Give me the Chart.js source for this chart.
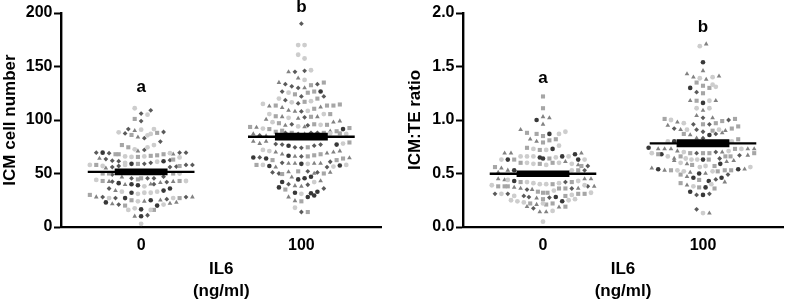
<!DOCTYPE html>
<html><head><meta charset="utf-8">
<script src="https://cdn.jsdelivr.net/npm/chart.js@4"></script>
<style>html,body{margin:0;padding:0;background:#fff;width:787px;height:300px;overflow:hidden}
canvas{position:absolute;top:0}</style></head><body>
<canvas id="a" width="400" height="300" style="left:0;width:400px;height:300px"></canvas>
<canvas id="b" width="387" height="300" style="left:400px;width:387px;height:300px"></canvas>
<script>
const categories=['0','100'];
const cellTicks=[0,50,100,150,200];
const ratioTicks=[0,0.5,1,1.5,2];
const cellLetters=[['a',131],['b',205]];
const ratioLetters=[['a',1.39],['b',1.87]];
const cellMeans=[51.5,84.4];
const cellSems=[3.2,3.6];
const ratioMeans=[0.498,0.782];
const ratioSems=[0.031,0.037];
// each mark: [swarm slot, value, marker kind]
const cell0=[[-1,111,'c'],[1.5,109,'x'],[0,106,'x'],[1,105,'c'],[-1,101,'s'],[0,99,'x'],
[-3.5,88.5,'c'],[-2.5,87.5,'x'],[-2,91.5,'x'],[-1,90,'t'],[-1.5,86,'s'],[0,91,'c'],[2,91.5,'c'],[1,85.7,'c'],[1.5,87,'c'],[2.5,88,'s'],[3.5,88.8,'x'],[-0.5,84,'t'],[0.5,83,'x'],
[-3,76.6,'s'],[-2,74.5,'s'],[-1,72.6,'c'],[-0.5,71,'t'],[0.5,72,'x'],[1,74.5,'c'],[2,76.6,'c'],[3,79.8,'x'],
[-7,69.5,'x'],[-6,69.5,'o'],[-5,69,'x'],[-4,68,'s'],[-3.5,68,'s'],[-2.5,66,'c'],[-1.5,65.5,'c'],[-0.5,65.5,'s'],[0.5,66,'c'],[1.5,66.5,'s'],[2.5,67,'s'],[3.5,68,'s'],[4.5,69,'c'],[5,68,'t'],[6,69.5,'x'],[7,69.5,'x'],
[-6.5,64,'t'],[-5.5,63.5,'x'],[-4.5,62,'x'],[-3.5,61.5,'x'],[-2.5,60,'c'],[-1.5,59,'o'],[-0.5,59,'s'],[0.5,59,'x'],[1.5,60,'x'],[2.5,61,'c'],[3.5,61.5,'o'],[4.5,62.5,'x'],[5,63,'s'],[6,65,'c'],
[-8,58,'c'],[-7,58,'s'],[-6,57,'c'],[-5.5,55,'t'],[-4.5,56,'x'],[-3.5,57,'x'],[-2.5,58,'c'],[4.5,56,'x'],[5.5,56.5,'x'],[6,57,'s'],[7,58,'x'],[8,58,'x'],
[-6,50,'s'],[-5,50,'s'],[-4.5,49,'x'],[5,50,'s'],[6,50,'c'],
[-3,46.5,'t'],[-1.5,45.5,'x'],[-0.5,44.5,'s'],[0,45.5,'s'],[1,45.5,'x'],[2,45.5,'x'],[3.5,47,'x'],
[-7,44,'c'],[-6,43,'s'],[-5,42.5,'t'],[-4.5,42.5,'x'],[-3.5,41,'o'],[-2.5,39.6,'t'],[-1.5,40,'o'],[-0.5,39,'o'],[0.5,38,'c'],[1.5,40,'t'],[2,40,'x'],[3,41.5,'t'],[4,42,'x'],[5,42.5,'t'],[6,43,'s'],[7,43,'c'],
[-5,36,'x'],[-4,34,'t'],[-3,33,'c'],[-1.5,32,'o'],[-0.5,31,'c'],[0.5,32,'c'],[1.5,32,'c'],[2.5,33,'c'],[3.5,34,'o'],[4.5,36,'o'],
[-8,30,'s'],[-7,28,'t'],[-6,28,'x'],[-5,27,'c'],[-4,27,'x'],[-2.5,27,'o'],[-1.5,25,'s'],[-0.5,24,'c'],[0.5,24,'t'],[1.5,25,'o'],[3,25,'t'],[4,26,'x'],[5,27,'c'],[6,27,'s'],[7,28,'x'],[8,28,'t'],
[-5.5,23,'o'],[-4.5,21.5,'t'],[-3.5,21,'x'],[-2.5,20,'s'],[-2,16,'c'],[-1,17.5,'c'],[0,16.5,'o'],[1.5,16,'c'],[2,16,'s'],[2.5,20,'o'],[3.5,21,'c'],[4.5,22,'t'],[5.5,23,'t'],
[-1,10,'t'],[0,10,'o'],[1,11,'x'],[0,3,'c']];
const cell100=[[0,190,'x'],[-0.5,170,'c'],[0.5,170,'c'],[-0.5,161,'c'],[0.5,157.5,'c'],
[-2,145,'t'],[-1,145,'x'],[0.5,146,'x'],[1.5,146.5,'c'],[-0.5,139,'t'],[0.5,137.5,'c'],
[-3.5,135,'t'],[-2.5,133.5,'x'],[-1.5,131.5,'x'],[-0.5,130,'x'],[0.5,130,'t'],[1.5,132.5,'s'],[2.5,133.5,'x'],[3.5,135,'s'],
[-3,126.6,'x'],[-2,125.5,'c'],[-1,124,'s'],[0,122,'x'],[1,125.5,'s'],[2,126.6,'s'],[3,126.6,'o'],
[-3.5,120,'c'],[-2.5,118.5,'x'],[-1.5,116.5,'c'],[-0.5,115.5,'x'],[0.5,117,'s'],[1.5,117.6,'c'],[2.5,120,'s'],[3.5,122,'x'],
[-6,115,'c'],[-5,113,'t'],[-4,113.5,'s'],[-3,111.5,'t'],[-2,109,'t'],[-1,108,'t'],[0,108,'x'],[1,108.5,'c'],[2,110.5,'s'],[3,112,'t'],[4,113.5,'s'],[5,113.5,'s'],[6,114.5,'s'],
[-5,105.5,'c'],[-4,103.5,'s'],[-3,103,'t'],[-2,102,'c'],[-0.5,101.5,'t'],[0.5,102.5,'x'],[1.5,103,'s'],[2.5,103,'t'],[3.5,105.5,'c'],[4.5,105.5,'s'],
[-5.5,100.5,'t'],[-4.5,98,'c'],[-3.5,97,'s'],[-2.5,95,'t'],[-1.5,96,'x'],[-0.5,94,'c'],[0.5,93.5,'t'],[1,95,'x'],[2,96,'s'],[3,95.5,'c'],[4,95.5,'s'],[5,98,'t'],[6,99,'t'],
[-8,93.5,'s'],[-7,93,'t'],[-6,92,'c'],[-5,91.5,'s'],[-4,89,'s'],[-3,90,'s'],[6.5,91.5,'o'],[7.5,92.5,'s'],[5.5,89.5,'s'],[4.5,89.5,'t'],
[-7.5,87,'t'],[-6.5,85.5,'x'],[-5.5,85,'t'],[4.5,87.5,'c'],[6,87.5,'s'],[7,87,'c'],[-2.5,88,'x'],[-1.5,88,'s'],[-0.5,87,'x'],[0.5,87,'t'],[1.5,88,'x'],[2.5,88,'x'],[3.5,88,'s'],
[-7.5,80,'t'],[-6.5,78,'t'],[-5.5,80,'t'],[-4,77.5,'x'],[-3,77,'x'],[-2,76,'o'],[-1,74.5,'x'],[0,74,'x'],[1,74.5,'s'],[2,76,'x'],[3,77,'x'],[5.5,77,'o'],[6.5,78,'c'],[7.5,79,'s'],
[-6,72,'c'],[-5,71,'c'],[-4,70,'t'],[-3,68,'t'],[-2,66.6,'o'],[-1,66,'t'],[0,66,'x'],[1,66,'s'],[2,67,'s'],[3,68,'s'],[4,69,'t'],[5,70,'t'],[6,71,'t'],
[-7.5,65,'o'],[-6.5,65,'x'],[-5.5,64,'o'],[-4.5,62.5,'s'],[4.5,61,'x'],[5.5,62.5,'s'],[6.5,64,'s'],[7.5,64.5,'t'],
[-7,58,'s'],[-6,58,'c'],[-5,57,'o'],[-4,56,'t'],[-3,60,'x'],[-2,59.5,'t'],[-1,59.5,'t'],[0,59,'o'],[1,59,'c'],[2,59.5,'t'],[3,59.5,'t'],[4,56,'x'],[5,56.5,'c'],[6,57.5,'o'],[7,58,'c'],
[-4.5,51,'x'],[-3.5,50,'x'],[-3,49.5,'s'],[-2,51.5,'t'],[-0.5,52,'s'],[1,52,'x'],[2,50,'t'],[2.5,51,'x'],[3.5,50,'s'],[4.5,51,'t'],[-1.5,46.5,'t'],[-0.5,44.5,'o'],[0.5,45.5,'o'],[1.5,47,'o'],[2,42,'c'],[3,43,'t'],
[-3,42,'o'],[-2,40,'x'],[-1,38.5,'t'],[0,38,'t'],[1,39.5,'x'],[-3.5,37,'o'],[-2.5,35,'s'],[-1,32,'o'],[0,31,'c'],[1,28,'o'],[1.5,31.5,'o'],[2.5,33,'o'],[3.5,36,'x'],[2,29.5,'o'],[-2,28,'t'],[-1,24.5,'t'],[0,24,'s'],[-1,18,'c'],[0,14,'x'],[1,14,'s']];
const ratio0=[[0,1.22,'s'],[0,1.11,'s'],[-1,1.00,'o'],[0,1.03,'t'],[1,1.02,'t'],[0,0.96,'t'],
[-3.5,0.91,'t'],[-2.5,0.88,'s'],[-1,0.87,'s'],[-2,0.82,'t'],[-1,0.80,'t'],[0,0.85,'s'],[0,0.79,'s'],[1,0.87,'o'],[1,0.81,'s'],[2,0.82,'s'],[2.5,0.87,'c'],[3.5,0.89,'c'],[2.5,0.76,'c'],
[-2.5,0.74,'s'],[-1.5,0.73,'c'],[-0.5,0.72,'s'],[0.5,0.72,'c'],[1.5,0.73,'o'],
[-6,0.69,'t'],[-5,0.69,'t'],[-6.5,0.63,'c'],[-5.5,0.63,'o'],[-4.5,0.63,'s'],[-3.5,0.66,'c'],[-2.5,0.66,'c'],[-1.5,0.66,'c'],[-0.5,0.65,'o'],[0,0.64,'o'],[1,0.64,'s'],[2,0.65,'c'],[3,0.66,'o'],[4,0.66,'c'],[5,0.68,'o'],[6,0.69,'t'],[5.5,0.63,'o'],[6.5,0.63,'c'],
[-3.5,0.60,'s'],[-2.5,0.60,'c'],[-1.5,0.59,'c'],[-0.5,0.59,'s'],[0.5,0.58,'c'],[1.5,0.60,'s'],[2.5,0.60,'c'],[3.5,0.61,'t'],[4.5,0.59,'c'],[5.5,0.58,'t'],[6,0.57,'s'],
[-7.5,0.56,'s'],[-6.5,0.55,'t'],[-5.5,0.53,'t'],[-4.5,0.53,'o'],[6.5,0.53,'x'],[4.5,0.53,'c'],[5.5,0.53,'s'],[7,0.57,'x'],[-7,0.51,'t'],
[-7,0.45,'t'],[-6,0.44,'t'],[-8,0.39,'c'],[-7,0.38,'s'],[-6,0.38,'s'],[-5.5,0.38,'s'],[-5.5,0.44,'c'],[-4.5,0.43,'o'],[-3.5,0.42,'s'],[-2.5,0.42,'c'],[-1.5,0.41,'c'],[-0.5,0.40,'c'],[0.5,0.40,'c'],[1.5,0.40,'s'],[2.5,0.41,'c'],[3.5,0.42,'x'],[4.5,0.42,'s'],[5.5,0.43,'c'],[6.5,0.45,'t'],[7.5,0.45,'t'],
[-4.5,0.37,'t'],[-3.5,0.36,'t'],[-2.5,0.35,'x'],[-1.7,0.35,'t'],[-0.8,0.33,'s'],[0,0.32,'s'],[0.7,0.32,'s'],[1.7,0.34,'c'],[2.5,0.36,'s'],[3.5,0.36,'s'],[4.5,0.36,'x'],[5.5,0.36,'t'],[6.5,0.39,'c'],[7,0.38,'x'],[8,0.38,'t'],
[-7.5,0.31,'x'],[-6.5,0.31,'c'],[-5.5,0.31,'x'],[-4.5,0.29,'c'],[-3,0.29,'x'],[-2.2,0.28,'x'],[-1,0.27,'t'],[0,0.26,'s'],[1,0.275,'x'],[2,0.28,'o'],[3.5,0.29,'s'],[4.5,0.30,'c'],[5.5,0.31,'s'],[6.5,0.31,'s'],[7.5,0.32,'c'],
[-5,0.25,'c'],[-4,0.24,'c'],[-3,0.23,'c'],[-2,0.22,'s'],[-1,0.21,'t'],[0,0.22,'c'],[1.5,0.22,'s'],[3,0.24,'o'],[4,0.25,'c'],[5,0.26,'c'],[-2.5,0.19,'t'],[-1.5,0.175,'x'],[0.5,0.21,'s'],[2.5,0.185,'t'],[3.5,0.19,'s'],[-0.5,0.14,'t'],[0.5,0.14,'t'],[1.5,0.15,'c'],[0,0.05,'c']];
const ratio100=[[-0.5,1.69,'c'],[0.5,1.71,'t'],[0,1.54,'o'],[-2.5,1.43,'t'],[-1.5,1.40,'t'],[0,1.46,'t'],[-0.5,1.39,'c'],[0.5,1.38,'t'],[1.5,1.40,'c'],[2.5,1.41,'t'],
[-1,1.35,'s'],[0,1.32,'s'],[1,1.30,'s'],[1.5,1.33,'c'],[2,1.31,'c'],[-2,1.30,'o'],[-1,1.26,'x'],[0,1.25,'s'],
[-2,1.18,'t'],[-1,1.18,'s'],[0,1.16,'o'],[1,1.18,'c'],[2,1.18,'t'],[-1,1.11,'c'],[0,1.09,'t'],[1,1.11,'c'],[-1,1.04,'t'],[0,1.02,'x'],[1.5,1.02,'t'],
[-6,1.01,'s'],[-5,1.00,'c'],[-4,0.98,'t'],[-3,0.97,'c'],[-1.5,0.96,'x'],[0,0.96,'s'],[1,0.96,'x'],[2,0.97,'s'],[3,0.99,'s'],[4,1.00,'x'],[5,1.01,'s'],
[-5.5,0.95,'t'],[-4.5,0.92,'x'],[-3.5,0.91,'t'],[-2.5,0.91,'c'],[-3,0.87,'s'],[-2,0.86,'t'],[-1,0.91,'x'],[0,0.89,'x'],[1.5,0.90,'s'],[2.5,0.91,'c'],[3.5,0.90,'t'],[4.5,0.92,'s'],[5.5,0.94,'s'],[1,0.86,'o'],[2,0.87,'x'],[3,0.88,'t'],
[-1,0.83,'t'],[0,0.83,'x'],[-5.5,0.80,'c'],[-4.5,0.80,'o'],[5.5,0.82,'s'],[4.5,0.80,'c'],
[-8.5,0.74,'o'],[-7,0.73,'t'],[-6,0.73,'t'],[-5,0.73,'t'],[-4,0.71,'t'],[-3,0.70,'c'],[-2,0.69,'s'],[-1,0.69,'x'],[0,0.69,'s'],[1,0.69,'s'],[2,0.70,'x'],[3,0.70,'t'],[4,0.71,'c'],[5,0.73,'s'],[6,0.73,'c'],[7,0.73,'t'],[8,0.73,'t'],
[-8,0.69,'c'],[-7,0.68,'s'],[-6.5,0.68,'o'],[-5.5,0.66,'c'],[-4.5,0.64,'t'],[-3.5,0.66,'s'],[-2.7,0.64,'c'],[-1.8,0.63,'c'],[-0.9,0.63,'c'],[0,0.63,'o'],[0.9,0.63,'s'],[2.6,0.64,'x'],[3.5,0.66,'s'],[4.3,0.66,'s'],[5.7,0.67,'x'],[7,0.67,'t'],[8,0.69,'s'],
[-4.5,0.62,'t'],[-3.5,0.60,'c'],[-2.5,0.59,'t'],[-1.7,0.58,'s'],[-0.5,0.56,'c'],[0.4,0.57,'c'],[1.8,0.57,'s'],[2.7,0.59,'o'],[3.7,0.61,'t'],[4.8,0.62,'t'],
[-8,0.55,'t'],[-7,0.54,'o'],[-6,0.53,'t'],[-5,0.53,'s'],[-4,0.53,'c'],[-3,0.52,'c'],[-2,0.51,'t'],[-0.6,0.50,'o'],[0.4,0.50,'t'],[1.5,0.52,'c'],[2.3,0.52,'s'],[3.4,0.53,'s'],[4.4,0.53,'s'],[5.5,0.54,'o'],[6.5,0.54,'t'],[7.4,0.56,'c'],
[-3.5,0.49,'s'],[-2.5,0.47,'t'],[-1.5,0.46,'o'],[-0.6,0.44,'s'],[0.9,0.43,'o'],[1.3,0.40,'c'],[2,0.445,'x'],[2.9,0.46,'o'],[3.9,0.49,'x'],[3.4,0.42,'t'],[-3.5,0.41,'s'],[-2.5,0.39,'t'],[-1.5,0.38,'c'],[-0.6,0.37,'s'],[0.4,0.37,'o'],[1.8,0.36,'s'],
[-2,0.33,'o'],[-1,0.30,'x'],[0,0.30,'o'],[1,0.31,'x'],[-1,0.165,'x'],[0,0.13,'c'],[1,0.13,'t']];

const kinds={c:['circle',2.4,'#cdcdcd'],s:['rect',2.9,'#a6a6a6'],t:['triangle',2.7,'#828282'],x:['rectRot',2.4,'#5a5a5a'],o:['circle',2.3,'#383838']};
const slotWidth=0.04, meanHalf=0.333, semHalf=0.165;
const font='"Liberation Sans",Arial,sans-serif';

const lettersPlugin={id:'letters',afterDatasetsDraw(ch,_,o){
  const c=ch.ctx;c.save();c.font='bold 17px '+font;c.fillStyle='#000';c.textAlign='center';c.textBaseline='middle';
  o.items.forEach((l,i)=>c.fillText(l[0],ch.scales.x.getPixelForValue(i),ch.scales.y.getPixelForValue(l[1])));
  c.restore();}};

function makeChart(id,groups,means,sems,ticks,yMax,yTitle,letters,decimals,leftPad,yWidth,rightPad){
  const datasets=[];
  for(const k of Object.keys(kinds)){
    const pts=[];
    groups.forEach((g,i)=>g.forEach(p=>{if(p[2]===k)pts.push({x:i+p[0]*slotWidth,y:p[1]});}));
    datasets.push({data:pts,showLine:false,order:2,pointStyle:kinds[k][0],pointRadius:kinds[k][1],pointBackgroundColor:kinds[k][2],pointBorderWidth:0});
  }
  means.forEach((m,i)=>{
    datasets.push({data:[{x:i-meanHalf,y:m},{x:i+meanHalf,y:m}],showLine:true,order:1,borderColor:'#000',borderWidth:2.4,pointRadius:0});
    const s=sems[i];
    datasets.push({data:[{x:i-semHalf,y:m-s},{x:i-semHalf,y:m+s},{x:i+semHalf,y:m+s},{x:i+semHalf,y:m-s},{x:i-semHalf,y:m-s}],showLine:true,order:0,borderColor:'#000',borderWidth:0,backgroundColor:'#000',fill:'shape',pointRadius:0,tension:0});
  });
  return new Chart(document.getElementById(id),{type:'scatter',data:{datasets},plugins:[lettersPlugin],
   options:{responsive:false,animation:false,clip:false,layout:{padding:{top:13,right:rightPad,bottom:0,left:leftPad}},
    plugins:{legend:{display:false},tooltip:{enabled:false},letters:{items:letters}},
    scales:{
     x:{type:'linear',min:-0.5,max:1.5,afterBuildTicks:a=>{a.ticks=categories.map((_,i)=>({value:i}));},
        afterFit:s=>{s.height=73;},
        grid:{display:false,drawTicks:false},border:{display:true,color:'#000',width:2.2},
        ticks:{autoSkip:false,maxRotation:0,padding:9,color:'#000',font:{family:font,size:16,weight:'bold'},callback:v=>categories[v]},
        title:{display:true,text:['IL6','(ng/ml)'],color:'#000',font:{family:font,size:17,weight:'bold',lineHeight:1.3},padding:{top:6,bottom:-2}}},
     y:{type:'linear',min:0,max:yMax,afterBuildTicks:a=>{a.ticks=ticks.map(v=>({value:v}));},
        afterFit:s=>{s.width=yWidth;},
        grid:{drawOnChartArea:false,drawTicks:true,tickLength:7,tickWidth:2,color:'#000'},border:{display:true,color:'#000',width:2.4},
        ticks:{padding:1.5,color:'#000',font:{family:font,size:16,weight:'bold'},callback:v=>decimals?v.toFixed(1):String(v)},
        title:{display:true,text:yTitle,color:'#000',font:{family:font,size:17,weight:'bold'},padding:{top:0,bottom:0}}}
    }}});
}
makeChart('a',[cell0,cell100],cellMeans,cellSems,cellTicks,200,'ICM cell number',cellLetters,false,0,61,18.5);
makeChart('b',[ratio0,ratio100],ratioMeans,ratioSems,ratioTicks,2,'ICM:TE ratio',ratioLetters,true,5,58,1);
</script></body></html>
